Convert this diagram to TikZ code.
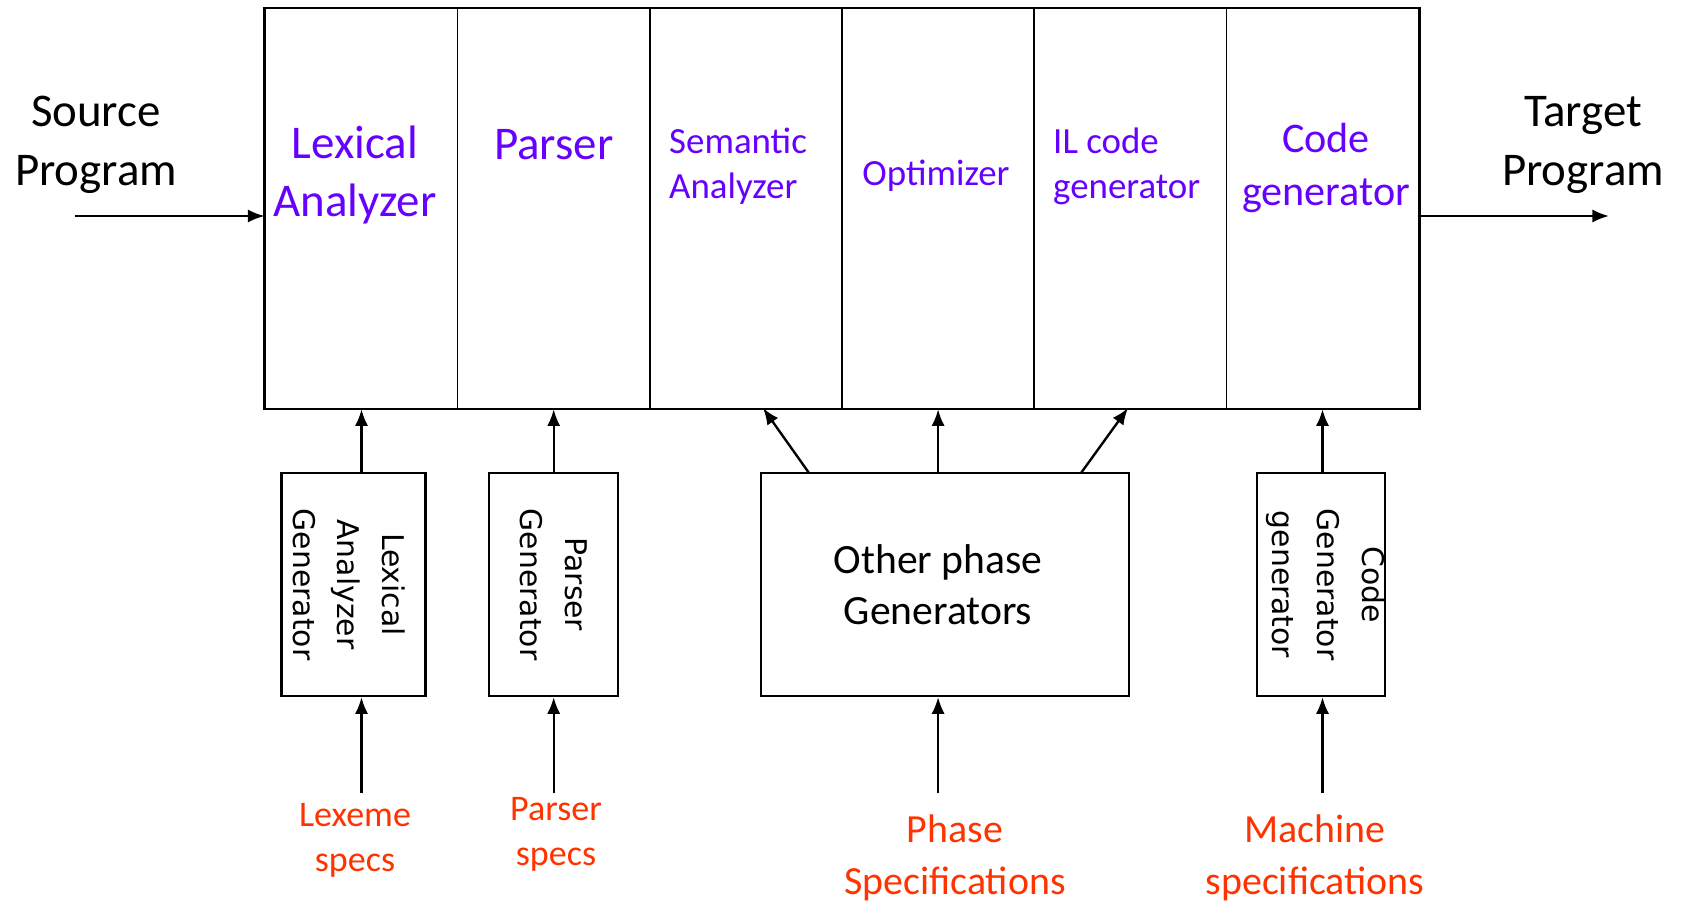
\documentclass[tikz,border=0pt]{standalone}
\usepackage{fontspec}
\setmainfont{Carlito}
\newfontfamily\sideface{DejaVu Sans}
\usepackage{tikz}
\usetikzlibrary{arrows.meta,positioning}
\definecolor{PhaseInk}{HTML}{6600FF}
\definecolor{SpecInk}{HTML}{FF3300}
\tikzset{
  figure/.style={x=0.02cm,y=-0.02cm,text=black,line join=miter},
  phasecell/.style={draw,line width=0.9pt,minimum width=3.844cm,minimum height=8cm,inner sep=0pt},
  genbox/.style={draw,line width=1.3pt,minimum height=4.46cm,inner sep=0pt},
  sidetext/.style={rotate=-90,align=center,font=\sideface\fontsize{17}{25.5}\selectfont},
  phasebig/.style={text=PhaseInk,align=center,font=\fontsize{26.7}{33.5}\selectfont},
  phasesmall/.style={text=PhaseInk,align=left,font=\fontsize{21}{25.5}\selectfont},
  spectext/.style={text=SpecInk,align=center},
  flow/.style={-{Latex[length=9.5pt,width=7.5pt]},line width=1.35pt},
}
\begin{document}
\begin{tikzpicture}[figure]
  \useasboundingbox (0,0) rectangle (1685,903);

  % compiler phases
  \node[phasecell] (lex) at (361.5,208.5) {};
  \node[phasecell] (par) at (553.7,208.5) {};
  \node[phasecell] (sem) at (745.9,208.5) {};
  \node[phasecell] (opt) at (938.1,208.5) {};
  \node[phasecell] (ilc) at (1130.3,208.5) {};
  \node[phasecell] (cgn) at (1322.5,208.5) {};
  \draw[line width=1.4pt] (lex.north west) rectangle (cgn.south east);

  \node[phasebig] at (355,175) {Lexical\\Analyzer};
  \node[phasebig] at (553.7,145) {Parser};
  \node[phasesmall,anchor=west] at (663,166.5) {Semantic\\Analyzer};
  \node[phasesmall] at (936,176) {Optimizer};
  \node[phasesmall,anchor=west] at (1047,166.5) {IL code\\generator};
  \node[phasebig,font=\fontsize{24}{30}\selectfont] at (1326,168) {Code\\generator};

  \node[align=center,font=\fontsize{26.7}{33.5}\selectfont] (src) at (96,145) {Source\\Program};
  \node[align=center,font=\fontsize{26.7}{33.5}\selectfont] (tgt) at (1583,145) {Target\\Program};
  \coordinate (srcin) at (75,216);
  \coordinate (tgtout) at (1609,216);
  \draw[flow] (srcin) -- (srcin -| lex.west);
  \draw[flow] (tgtout -| cgn.east) -- (tgtout);

  % generators
  \node[genbox,minimum width=2.88cm] (lexgen) at (353.5,584.5) {};
  \node[sidetext] at (349,584.5) {Lexical\\Analyzer\\Generator};
  \node[genbox,minimum width=2.58cm] (pargen) at (553.5,584.5) {};
  \node[sidetext] at (553.5,584.5) {Parser\\Generator};
  \node[genbox,minimum width=7.36cm] (othgen) at (945,584.5) {};
  \node[align=center,font=\fontsize{23.7}{28.7}\selectfont] at (938,584.5) {Other phase\\Generators};
  \node[genbox,minimum width=2.56cm] (cgngen) at (1321,584.5) {};
  \node[sidetext] at (1326,584.5) {Code\\Generator\\generator};

  \draw[flow] (lexgen.north -| lex.south) -- (lex.south);
  \draw[flow] (pargen.north -| par.south) -- (par.south);
  \coordinate (semfrom) at (809,473);
  \coordinate (semto) at (763,408);
  \coordinate (ilcfrom) at (1081,473);
  \coordinate (ilcto) at (1128,408);
  \draw[flow] (semfrom) -- (semto);
  \draw[flow] (othgen.north -| opt.south) -- (opt.south);
  \draw[flow] (ilcfrom) -- (ilcto);
  \draw[flow] (cgngen.north -| cgn.south) -- (cgn.south);

  % specifications
  \node[spectext,font=\fontsize{20.5}{25.7}\selectfont] (lexspec) at (355,840) {Lexeme\\specs};
  \node[spectext,font=\fontsize{20.5}{25.7}\selectfont] (parspec) at (556,834) {Parser\\specs};
  \node[spectext,font=\fontsize{22.7}{29.4}\selectfont] (othspec) at (955,858) {Phase\\Specifications};
  \node[spectext,font=\fontsize{22.7}{29.4}\selectfont] (cgnspec) at (1315,858) {Machine\\specifications};
  \coordinate (lexin) at (361.5,793);
  \coordinate (parin) at (553.7,793);
  \coordinate (othin) at (938.1,793);
  \coordinate (cgnin) at (1322.5,793);
  \draw[flow] (lexin) -- (lexin |- lexgen.south);
  \draw[flow] (parin) -- (parin |- pargen.south);
  \draw[flow] (othin) -- (othin |- othgen.south);
  \draw[flow] (cgnin) -- (cgnin |- cgngen.south);
\end{tikzpicture}
\end{document}
